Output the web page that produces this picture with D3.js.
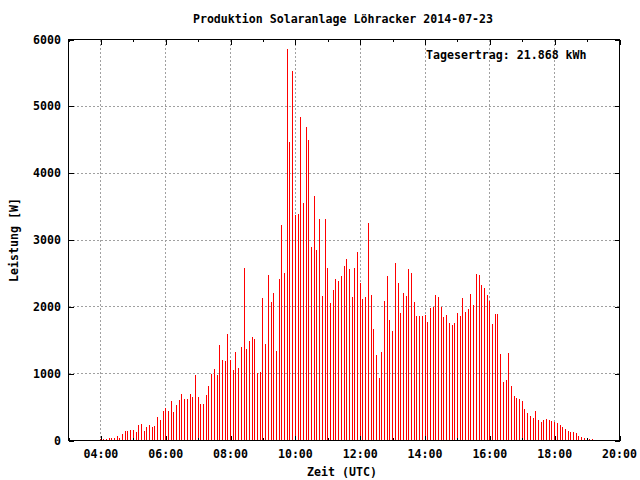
<!DOCTYPE html>
<html>
<head>
<meta charset="utf-8">
<script src="https://cdn.jsdelivr.net/npm/d3@7/dist/d3.min.js"></script>
<style>
  html, body { margin: 0; padding: 0; background: #fff; }
  svg { display: block; }
  text { font-family: "DejaVu Sans Mono", "Liberation Mono", monospace; font-weight: bold; font-size: 11.6px; fill: #000; }
</style>
</head>
<body>
<svg id="chart" width="640" height="480"></svg>
<script>
// ---- data ----
const titleText = "Produktion Solaranlage Löhracker 2014-07-23";
const yieldLabel = "Tagesertrag: 21.868 kWh";
const xLabel = "Zeit (UTC)";
const yLabel = "Leistung [W]";
const startTime = "2014-07-23T04:00:00";   // first sample
const stepMinutes = 5;                       // sampling interval
const power = [
  20, 20, 20, 35, 35, 35, 65, 35, 95, 140,
  140, 155, 155, 125, 230, 245, 140, 200, 230, 200,
  215, 350, 305, 440, 485, 440, 590, 425, 530, 605,
  700, 625, 625, 700, 655, 985, 655, 550, 550, 685,
  820, 1000, 1075, 985, 1435, 1210, 1195, 1600, 1210, 1060,
  1330, 1090, 1405, 2575, 1375, 1495, 1555, 1525, 1015, 1030,
  2125, 1447, 2480, 2071, 2206, 1342, 2420, 3228, 2510, 5863,
  4471, 5534, 3378, 3393, 4845, 3558, 4696, 4501, 2899, 3663,
  2854, 3318, 2166, 3318, 2585, 2061, 2255, 2420, 2390, 2465,
  2615, 2718, 2565, 2146, 2580, 2819, 2355, 2116, 2146, 3253,
  2176, 1667, 1277, 933, 1322, 2086, 2460, 1801, 1637, 2655,
  2355, 1906, 2206, 2161, 2565, 2505, 2071, 1861, 1861, 1861,
  1876, 1771, 1981, 1996, 2176, 2146, 1996, 1846, 1876, 1756,
  1727, 1756, 1906, 1861, 2131, 1921, 1966, 2191, 2026, 2490,
  2475, 2325, 2280, 2176, 2086, 1742, 1891, 1891, 1292, 873,
  903, 1307, 813, 664, 634, 619, 589, 469, 409, 364,
  334, 439, 304, 274, 304, 319, 304, 289, 274, 259,
  230, 200, 170, 140, 125, 125, 110, 65, 50, 35,
  30, 20, 20
];
const xDomain = ["2014-07-23T03:00:00", "2014-07-23T20:00:00"];
const xTickHours = [4, 6, 8, 10, 12, 14, 16, 18, 20];
const xMinorHours = [3, 5, 7, 9, 11, 13, 15, 17, 19];
const yTicks = [0, 1000, 2000, 3000, 4000, 5000, 6000];

// ---- layout ----
const L = 68.5, R = 619.5, T = 39.5, B = 440.5;
const svg = d3.select("#chart");
svg.append("rect").attr("width", 640).attr("height", 480).attr("fill", "#fff");

const parse = d3.isoParse;
const t0 = parse(startTime);
const samples = power.map((v, i) => ({ t: d3.timeMinute.offset(t0, i * stepMinutes), v }));

const x = d3.scaleTime().domain(xDomain.map(parse)).range([L, R]);
const y = d3.scaleLinear().domain([0, 6000]).range([B, T]);
const hour = h => { const d = parse(xDomain[0]); d.setHours(h, 0, 0, 0); return d; };
const majorT = xTickHours.map(hour);
const minorT = xMinorHours.map(hour);

// grid
const grid = svg.append("g").attr("stroke", "#a0a0a0").attr("stroke-width", 1)
  .attr("stroke-dasharray", "2,2").attr("shape-rendering", "crispEdges");
grid.selectAll("line.v").data(majorT.filter(d => x(d) > L + 1 && x(d) < R - 1)).join("line")
  .attr("x1", d => Math.round(x(d) - 0.5) + 0.5).attr("x2", d => Math.round(x(d) - 0.5) + 0.5)
  .attr("y1", T).attr("y2", B);
grid.selectAll("line.h").data(yTicks.filter(d => d > 0 && d < 6000)).join("line")
  .attr("y1", d => Math.round(y(d) - 0.5) + 0.5).attr("y2", d => Math.round(y(d) - 0.5) + 0.5)
  .attr("x1", L).attr("x2", R);

// impulses
svg.append("g").attr("stroke", "#ff0000").attr("stroke-width", 1).attr("shape-rendering", "crispEdges")
  .selectAll("line").data(samples).join("line")
  .attr("x1", d => Math.round(x(d.t) - 0.5) + 0.5).attr("x2", d => Math.round(x(d.t) - 0.5) + 0.5)
  .attr("y1", y(0)).attr("y2", d => y(d.v));

// axes (ticks inward, mirrored)
function styleAxis(g) {
  g.select(".domain").remove();
  g.selectAll(".tick line").attr("stroke", "#000").attr("shape-rendering", "crispEdges");
  g.selectAll(".tick text").remove();
}
const fmt = d3.timeFormat("%H:%M");
svg.append("g").attr("transform", `translate(0,${B})`)
  .call(d3.axisTop(x).tickValues(majorT).tickSize(5)).call(styleAxis);
svg.append("g").attr("transform", `translate(0,${B})`)
  .call(d3.axisTop(x).tickValues(minorT).tickSize(2.5)).call(styleAxis);
svg.append("g").attr("transform", `translate(0,${T})`)
  .call(d3.axisBottom(x).tickValues(majorT).tickSize(5)).call(styleAxis);
svg.append("g").attr("transform", `translate(0,${T})`)
  .call(d3.axisBottom(x).tickValues(minorT).tickSize(2.5)).call(styleAxis);
svg.append("g").attr("transform", `translate(${L},0)`)
  .call(d3.axisRight(y).tickValues(yTicks).tickSize(5)).call(styleAxis);
svg.append("g").attr("transform", `translate(${R},0)`)
  .call(d3.axisLeft(y).tickValues(yTicks).tickSize(5)).call(styleAxis);

// border
svg.append("rect").attr("x", L).attr("y", T).attr("width", R - L).attr("height", B - T)
  .attr("fill", "none").attr("stroke", "#000").attr("stroke-width", 1).attr("shape-rendering", "crispEdges");

// tick labels
svg.append("g").selectAll("text").data(majorT).join("text")
  .attr("x", d => x(d)).attr("y", 458).attr("text-anchor", "middle").text(d => fmt(d));
svg.append("g").selectAll("text").data(yTicks).join("text")
  .attr("x", 61).attr("y", d => y(d) + 4).attr("text-anchor", "end").text(d => d);

// titles
svg.append("text").attr("x", 343).attr("y", 23).attr("text-anchor", "middle").text(titleText);
svg.append("text").attr("x", 426).attr("y", 59).text(yieldLabel);
svg.append("text").attr("x", 342).attr("y", 476).attr("text-anchor", "middle").text(xLabel);
svg.append("text").attr("transform", "translate(18,240) rotate(-90)").attr("text-anchor", "middle").text(yLabel);
</script>
</body>
</html>
